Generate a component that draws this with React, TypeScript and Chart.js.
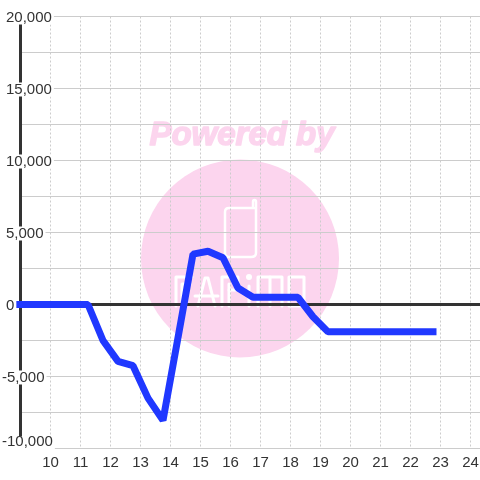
import React, { useEffect, useRef } from "react";
import { Chart, registerables } from "chart.js";

Chart.register(...registerables);

const hours = [8.75, 9.25, 9.75, 10.25, 10.75, 11.25, 11.75, 12.25, 12.75, 13.25, 13.75, 14.25, 14.75, 15.25, 15.75, 16.25, 16.75, 17.25, 17.75, 18.25, 18.75, 19.25, 19.75, 20.25, 20.75, 21.25, 21.75, 22.25, 22.75];
const profit = [0, 0, 0, 0, 0, 0, -2500, -3950, -4250, -6500, -8050, -2300, 3500, 3700, 3250, 1150, 500, 500, 500, 500, -850, -1900, -1900, -1900, -1900, -1900, -1900, -1900, -1900];

const xTicks = [10, 11, 12, 13, 14, 15, 16, 17, 18, 19, 20, 21, 22, 23, 24];
const yMajor = [20000, 15000, 10000, 5000, 0, -5000, -10000];

const FONT = "'Liberation Sans', Arial, sans-serif";
const PINK = "#fcd5ee";

const watermark = {
  id: "watermark",
  beforeDraw(chart: any) {
    const c = chart.ctx;
    c.save();
    c.fillStyle = "#ffffff";
    c.fillRect(0, 0, 480, 480);
    c.fillStyle = PINK;
    c.strokeStyle = PINK;
    c.lineWidth = 1.5;
    c.lineJoin = "round";
    c.font = "italic bold 33px " + FONT;
    c.textAlign = "center";
    c.textBaseline = "alphabetic";
    c.fillText("Powered by", 242, 145);
    c.strokeText("Powered by", 242, 145);
    c.beginPath();
    c.arc(240, 258.5, 99, 0, Math.PI * 2);
    c.fill();

    c.strokeStyle = "#ffffff";
    c.lineWidth = 2.5;
    c.lineCap = "round";
    c.lineJoin = "round";
    // handset outline
    c.beginPath();
    c.moveTo(254, 208);
    c.lineTo(229, 208);
    c.quadraticCurveTo(225, 208, 225, 212);
    c.lineTo(225, 253);
    c.quadraticCurveTo(225, 257, 229, 257);
    c.lineTo(251, 257);
    c.quadraticCurveTo(256, 257, 256, 253);
    c.lineTo(256, 202);
    c.quadraticCurveTo(256, 200, 254.5, 200);
    c.quadraticCurveTo(253, 200, 253, 202);
    c.lineTo(253, 208);
    c.stroke();

    // logotype strokes
    c.lineWidth = 3;
    const strokes: number[][] = [
      [176, 306, 176, 277, 192, 277],
      [182, 306, 182, 284, 190, 284],
      [198, 306, 205, 278, 208, 278, 215, 306],
      [195, 296, 218, 296],
      [222, 306, 222, 277, 238, 277, 238, 290, 229, 290],
      [229, 306, 229, 284],
      [249, 306, 249, 286],
      [258, 306, 258, 277, 282, 277, 282, 306],
      [270, 306, 270, 277],
      [289, 306, 289, 277, 304, 277, 304, 306, 289, 306],
    ];
    for (const s of strokes) {
      c.beginPath();
      c.moveTo(s[0], s[1]);
      for (let i = 2; i < s.length; i += 2) c.lineTo(s[i], s[i + 1]);
      c.stroke();
    }
    c.fillStyle = "#ffffff";
    c.beginPath();
    c.arc(249, 277, 3, 0, Math.PI * 2);
    c.fill();
    c.restore();

    // y tick labels: shift to match the reference's hanging layout
    const y = chart.scales.y;
    const items = y.getLabelItems(chart.chartArea);
    c.save();
    for (const it of items) {
      const o = it.options;
      if (!it.label) {
        o.backdrop = undefined;
        continue;
      }
      if (o.__adjusted) continue;
      o.__adjusted = true;
      const neg = String(it.label).startsWith("-");
      const bottom = it.label === "-10,000";
      o.translation[0] = neg ? 2 : 6;
      o.translation[1] += bottom ? -7 : 1;
      if (o.backdrop) {
        c.font = it.font.string;
        // backdrop coordinates are relative to the label's translation
        o.backdrop.left = 0;
        o.backdrop.width = c.measureText(String(it.label)).width + 2;
        o.backdrop.top = bottom ? -5 : -7;
        o.backdrop.height = 14;
      }
    }
    c.restore();
  },
};

export default function App() {
  const ref = useRef<HTMLCanvasElement>(null);
  useEffect(() => {
    const chart = new Chart(ref.current as HTMLCanvasElement, {
      type: "line",
      data: {
        datasets: [
          {
            data: hours.map((h, i) => ({ x: h, y: profit[i] })),
            borderColor: "#2038ff",
            borderWidth: 7,
            pointRadius: 0,
            tension: 0,
            clip: false as any,
            borderJoinStyle: "bevel",
            borderCapStyle: "square",
          },
        ],
      },
      options: {
        responsive: false,
        animation: false,
        devicePixelRatio: 1,
        layout: { padding: { top: 16.5, left: 0, right: 0, bottom: 0 } },
        plugins: { legend: { display: false }, tooltip: { enabled: false } },
        scales: {
          x: {
            type: "linear",
            min: 9,
            max: 24.3167,
            afterBuildTicks(s: any) {
              s.ticks = xTicks.map((value) => ({ value }));
            },
            afterFit(s: any) {
              s.height = 31.5;
              s.paddingLeft = 0;
              s.paddingRight = 0;
            },
            border: { display: false, dash: [2, 2] },
            grid: {
              color: "#cccccc",
              lineWidth: 1,
              drawTicks: false,
            },
            ticks: {
              color: "#333333",
              font: { family: FONT, size: 15 },
              autoSkip: false,
              maxRotation: 0,
              padding: 5,
              callback: (v: any) => String(v),
            },
          },
          y: {
            min: -10000,
            max: 20000,
            afterFit(s: any) {
              s.width = 20.5;
              s.paddingTop = 0;
              s.paddingBottom = 0;
            },
            border: { display: true, color: "#333333", width: 3 },
            grid: {
              color: (ctx: any) => (ctx.tick && ctx.tick.value === 0 ? "#333333" : "#cccccc"),
              lineWidth: (ctx: any) => (ctx.tick && ctx.tick.value === 0 ? 3 : 1),
              drawTicks: false,
            },
            ticks: {
              stepSize: 2500,
              autoSkip: false,
              mirror: true,
              z: 1,
              padding: 0,
              color: "#333333",
              font: { family: FONT, size: 15 },
              showLabelBackdrop: true,
              backdropColor: "#ffffff",
              backdropPadding: 0,
              callback: (v: any) => (yMajor.includes(v) ? Number(v).toLocaleString("en-US") : ""),
            },
          },
        },
      },
      plugins: [watermark],
    } as any);
    return () => chart.destroy();
  }, []);
  return (
    <div style={{ position: "absolute", left: 0, top: 0, width: 480, height: 480 }}>
      <canvas ref={ref} width={480} height={480} style={{ display: "block" }} />
    </div>
  );
}
